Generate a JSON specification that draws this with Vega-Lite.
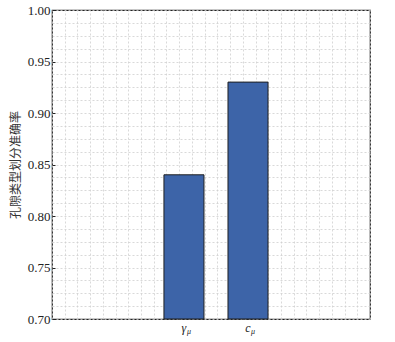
{
  "$schema": "https://vega.github.io/schema/vega-lite/v6.json",
  "autosize": "none",
  "padding": {"left": 52, "top": 10, "right": 25, "bottom": 23},
  "width": 318,
  "height": 309,
  "background": "white",
  "config": {
    "view": {"stroke": "#222222", "strokeWidth": 1.2},
    "font": "Liberation Serif"
  },
  "data": {"values": [
    {"cat": "γ", "sub": "μ", "acc": 0.84},
    {"cat": "c", "sub": "μ", "acc": 0.93}
  ]},
  "layer": [
    {
      "data": {"values": [{"g": 0, "v": 0.7}]},
      "mark": {"type": "point", "opacity": 0},
      "encoding": {
        "x": {"field": "g", "type": "quantitative",
          "scale": {"domain": [0, 25], "nice": false, "zero": false},
          "axis": {"orient": "top", "grid": true, "labels": false, "ticks": false, "domain": false, "title": null,
            "values": [0,1,2,3,4,5,6,7,8,9,10,11,12,13,14,15,16,17,18,19,20,21,22,23,24,25],
            "gridColor": "#cfcfcf", "gridDash": [2, 2], "gridWidth": 0.8}},
        "y": {"field": "v", "type": "quantitative",
          "scale": {"domain": [0.7, 1.0], "nice": false, "zero": false},
          "axis": {"orient": "right", "grid": true, "labels": false, "ticks": false, "domain": false, "title": null,
            "values": [0.7,0.7125,0.725,0.7375,0.75,0.7625,0.775,0.7875,0.8,0.8125,0.825,0.8375,0.85,0.8625,0.875,0.8875,0.9,0.9125,0.925,0.9375,0.95,0.9625,0.975,0.9875,1.0],
            "gridColor": "#cfcfcf", "gridDash": [2, 2], "gridWidth": 0.8}}
      }
    },
    {
      "mark": {"type": "bar", "fill": "#3d64a8", "stroke": "#1f1f1f", "strokeWidth": 1},
      "encoding": {
        "x": {"field": "cat", "type": "nominal", "sort": null,
          "scale": {"type": "band", "domain": ["p1", "γ", "c", "p2"], "paddingInner": 0.375, "paddingOuter": 0.67, "align": 0.558},
          "axis": {"title": null, "values": ["γ", "c"], "labelAngle": 0, "labelFont": "Liberation Serif", "labelFontStyle": "italic",
            "labelFontSize": 12, "labelColor": "#222222", "tickSize": -4, "tickColor": "#222222", "tickWidth": 1.2,
            "labelPadding": 7, "domain": false}},
        "y": {"field": "acc", "type": "quantitative",
          "scale": {"domain": [0.7, 1.0], "nice": false, "zero": false},
          "axis": {"title": "孔隙类型划分准确率", "titleFont": "Noto Sans CJK SC", "titleFontSize": 12,
            "titleFontWeight": "normal", "titleColor": "#333333", "titlePadding": 5,
            "values": [0.7, 0.75, 0.8, 0.85, 0.9, 0.95, 1.0], "format": ".2f", "grid": false,
            "labelFont": "Liberation Serif", "labelFontSize": 13, "labelColor": "#222222",
            "tickSize": -3, "tickColor": "#222222", "labelPadding": 5, "domain": false}},
        "y2": {"datum": 0.7}
      }
    },
    {
      "mark": {"type": "text", "font": "Liberation Serif", "fontStyle": "italic", "fontSize": 8, "color": "#222222",
        "dx": 5, "dy": 13},
      "encoding": {
        "x": {"field": "cat", "type": "nominal", "sort": null, "bandPosition": 0.5,
          "scale": {"type": "band", "domain": ["p1", "γ", "c", "p2"], "paddingInner": 0.375, "paddingOuter": 0.67, "align": 0.558}, "axis": null},
        "y": {"datum": 0.7, "type": "quantitative",
          "scale": {"domain": [0.7, 1.0], "nice": false, "zero": false}, "axis": null},
        "text": {"field": "sub"}
      }
    }
  ],
  "resolve": {"scale": {"x": "independent", "y": "independent"}, "axis": {"x": "independent", "y": "independent"}}
}
